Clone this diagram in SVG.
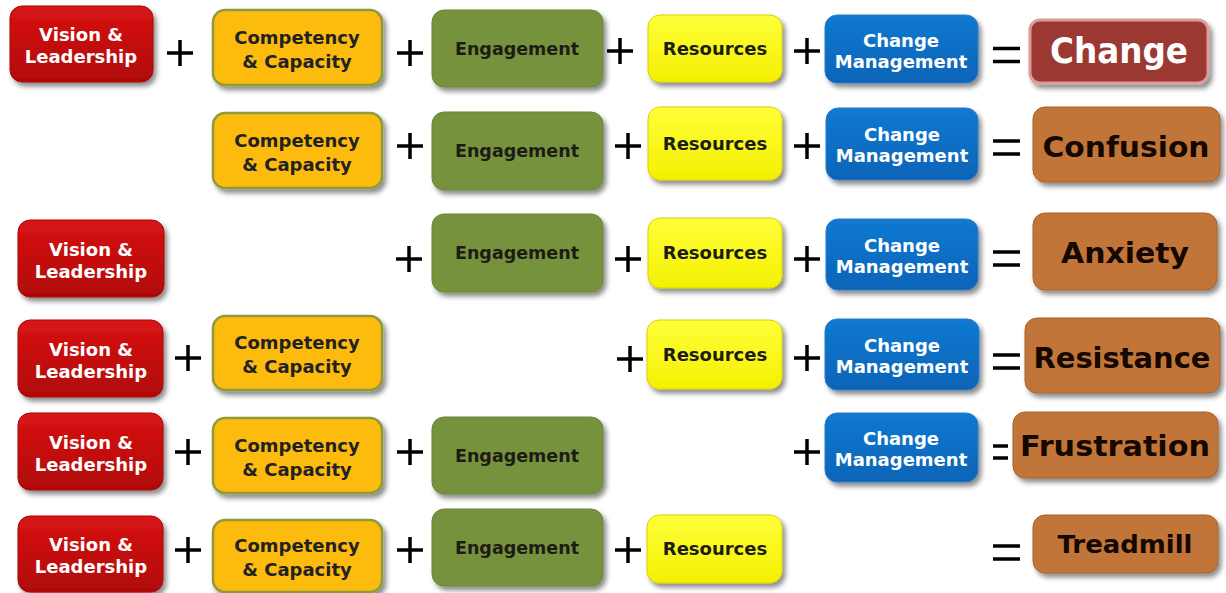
<svg xmlns="http://www.w3.org/2000/svg" width="1226" height="593" viewBox="0 0 1226 593">
<defs>
<filter id="sh" x="-10%" y="-10%" width="125%" height="135%">
<feDropShadow dx="3" dy="4" stdDeviation="2.5" flood-color="#000" flood-opacity="0.45"/>
</filter>
<linearGradient id="gRed" x1="0" y1="0" x2="0" y2="1"><stop offset="0" stop-color="#d81414"/><stop offset="1" stop-color="#b00606"/></linearGradient>
<linearGradient id="gYel" x1="0" y1="0" x2="0" y2="1"><stop offset="0" stop-color="#ffff3a"/><stop offset="1" stop-color="#f4f000"/></linearGradient>
<linearGradient id="gBlue" x1="0" y1="0" x2="0" y2="1"><stop offset="0" stop-color="#1279d0"/><stop offset="1" stop-color="#0a64b8"/></linearGradient>
</defs>
<style>
text{font-family:"DejaVu Sans","Verdana",sans-serif;font-weight:bold;text-anchor:middle}
.vl rect{fill:url(#gRed);stroke:#a80808;stroke-width:1;filter:url(#sh)}
.vl text{fill:#fff;font-size:18px}
.cc rect{fill:#fdbb08;stroke:#8e9a3a;stroke-width:2.5;filter:url(#sh)}
.cc text{fill:#222;font-size:18px}
.en rect{fill:#77923c;stroke:#6c8636;stroke-width:1;filter:url(#sh)}
.en text{fill:#1c1c14;font-size:17.5px}
.rs rect{fill:url(#gYel);stroke:#d8d000;stroke-width:1;filter:url(#sh)}
.rs text{fill:#1c1c10;font-size:18px}
.cm rect{fill:url(#gBlue);stroke:#2a7ccc;stroke-width:1;filter:url(#sh)}
.cm text{fill:#fff;font-size:18px}
.res rect{fill:#c27437;stroke:#a86128;stroke-width:1;filter:url(#sh)}
.res text{fill:#140800;font-size:29px}
.chg rect{fill:#9b3733;stroke:#dc9a9a;stroke-width:3;filter:url(#sh)}
.chg text{fill:#fff;font-size:35px}
.op path{stroke:#000;stroke-width:3.5;fill:none}
</style>

<!-- Row 1 -->
<g id="r1-vl" class="vl"><rect x="10" y="6" width="143" height="76" rx="12"/><text x="81" y="41">Vision &amp;</text><text x="81" y="63">Leadership</text></g>
<g id="r1-cc" class="cc"><rect x="213" y="10" width="169" height="75" rx="12"/><text x="297" y="43.5">Competency</text><text x="297" y="67.5">&amp; Capacity</text></g>
<g id="r1-en" class="en"><rect x="432" y="10" width="171" height="77" rx="12"/><text x="517" y="55">Engagement</text></g>
<g id="r1-rs" class="rs"><rect x="648" y="15" width="134" height="67" rx="12"/><text x="715" y="55">Resources</text></g>
<g id="r1-cm" class="cm"><rect x="825" y="15" width="153" height="68" rx="12"/><text x="901" y="47">Change</text><text x="901" y="68">Management</text></g>
<g id="r1-out" class="chg"><rect x="1030" y="20" width="178" height="63" rx="10"/><text x="1119" y="63" textLength="138" lengthAdjust="spacingAndGlyphs">Change</text></g>

<!-- Row 2 -->
<g id="r2-cc" class="cc"><rect x="213" y="113" width="169" height="75" rx="12"/><text x="297" y="146.5">Competency</text><text x="297" y="170.5">&amp; Capacity</text></g>
<g id="r2-en" class="en"><rect x="432" y="112" width="171" height="78" rx="12"/><text x="517" y="157">Engagement</text></g>
<g id="r2-rs" class="rs"><rect x="648" y="107" width="134" height="73" rx="12"/><text x="715" y="150">Resources</text></g>
<g id="r2-cm" class="cm"><rect x="826" y="108" width="152" height="72" rx="12"/><text x="902" y="141">Change</text><text x="902" y="162">Management</text></g>
<g id="r2-out" class="res"><rect x="1033" y="107" width="187" height="75" rx="12"/><text x="1126" y="157" textLength="167" lengthAdjust="spacingAndGlyphs">Confusion</text></g>

<!-- Row 3 -->
<g id="r3-vl" class="vl"><rect x="18" y="220" width="146" height="77" rx="12"/><text x="91" y="255.5">Vision &amp;</text><text x="91" y="277.5">Leadership</text></g>
<g id="r3-en" class="en"><rect x="432" y="214" width="171" height="78" rx="12"/><text x="517" y="259">Engagement</text></g>
<g id="r3-rs" class="rs"><rect x="648" y="218" width="134" height="70" rx="12"/><text x="715" y="259">Resources</text></g>
<g id="r3-cm" class="cm"><rect x="826" y="219" width="152" height="71" rx="12"/><text x="902" y="251.5">Change</text><text x="902" y="272.5">Management</text></g>
<g id="r3-out" class="res"><rect x="1033" y="213" width="184" height="77" rx="12"/><text x="1125" y="263" textLength="128" lengthAdjust="spacingAndGlyphs">Anxiety</text></g>

<!-- Row 4 -->
<g id="r4-vl" class="vl"><rect x="18" y="320" width="145" height="77" rx="12"/><text x="91" y="355.5">Vision &amp;</text><text x="91" y="377.5">Leadership</text></g>
<g id="r4-cc" class="cc"><rect x="213" y="316" width="169" height="74" rx="12"/><text x="297" y="349">Competency</text><text x="297" y="373">&amp; Capacity</text></g>
<g id="r4-rs" class="rs"><rect x="647" y="320" width="135" height="69" rx="12"/><text x="715" y="361">Resources</text></g>
<g id="r4-cm" class="cm"><rect x="825" y="319" width="154" height="71" rx="12"/><text x="902" y="351.5">Change</text><text x="902" y="372.5">Management</text></g>
<g id="r4-out" class="res"><rect x="1025" y="318" width="195" height="75" rx="12"/><text x="1122" y="368" textLength="177" lengthAdjust="spacingAndGlyphs">Resistance</text></g>

<!-- Row 5 -->
<g id="r5-vl" class="vl"><rect x="18" y="413" width="145" height="77" rx="12"/><text x="91" y="448.5">Vision &amp;</text><text x="91" y="470.5">Leadership</text></g>
<g id="r5-cc" class="cc"><rect x="213" y="418" width="169" height="75" rx="12"/><text x="297" y="451.5">Competency</text><text x="297" y="475.5">&amp; Capacity</text></g>
<g id="r5-en" class="en"><rect x="432" y="417" width="171" height="77" rx="12"/><text x="517" y="462">Engagement</text></g>
<g id="r5-cm" class="cm"><rect x="825" y="413" width="153" height="69" rx="12"/><text x="901" y="444.5">Change</text><text x="901" y="465.5">Management</text></g>
<g id="r5-out" class="res"><rect x="1013" y="412" width="205" height="66" rx="12"/><text x="1115" y="456" textLength="190" lengthAdjust="spacingAndGlyphs">Frustration</text></g>

<!-- Row 6 -->
<g id="r6-vl" class="vl"><rect x="18" y="516" width="145" height="76" rx="12"/><text x="91" y="551">Vision &amp;</text><text x="91" y="573">Leadership</text></g>
<g id="r6-cc" class="cc"><rect x="213" y="520" width="169" height="72" rx="12"/><text x="297" y="552">Competency</text><text x="297" y="576">&amp; Capacity</text></g>
<g id="r6-en" class="en"><rect x="432" y="509" width="171" height="77" rx="12"/><text x="517" y="554">Engagement</text></g>
<g id="r6-rs" class="rs"><rect x="647" y="515" width="135" height="68" rx="12"/><text x="715" y="555">Resources</text></g>
<g id="r6-out" class="res"><rect x="1033" y="515" width="185" height="58" rx="12"/><text x="1125" y="553" style="font-size:25px" textLength="135" lengthAdjust="spacingAndGlyphs">Treadmill</text></g>

<!-- Operators -->
<g id="operators" class="op">
<path d="M167 53h26M180 40v26M397 53h26M410 40v26M607 51h26M620 38v26M794 51h26M807 38v26"/>
<path d="M993 48.5h27M993 61.5h27"/>
<path d="M397 146h26M410 133v26M615 146h26M628 133v26M794 146h26M807 133v26"/>
<path d="M993 141h27M993 154h27"/>
<path d="M396 259h26M409 246v26M615 259h26M628 246v26M794 259h26M807 246v26"/>
<path d="M993 252h27M993 265h27"/>
<path d="M175 358h26M188 345v26M617 359h26M630 346v26M794 358h26M807 345v26"/>
<path d="M993 355h27M993 368h27"/>
<path d="M175 452h26M188 439v26M397 452h26M410 439v26M794 452h26M807 439v26"/>
<path d="M993 446h15M993 458h15"/>
<path d="M175 550h26M188 537v26M397 550h26M410 537v26M615 550h26M628 537v26"/>
<path d="M993 546h27M993 559h27"/>
</g>
</svg>
